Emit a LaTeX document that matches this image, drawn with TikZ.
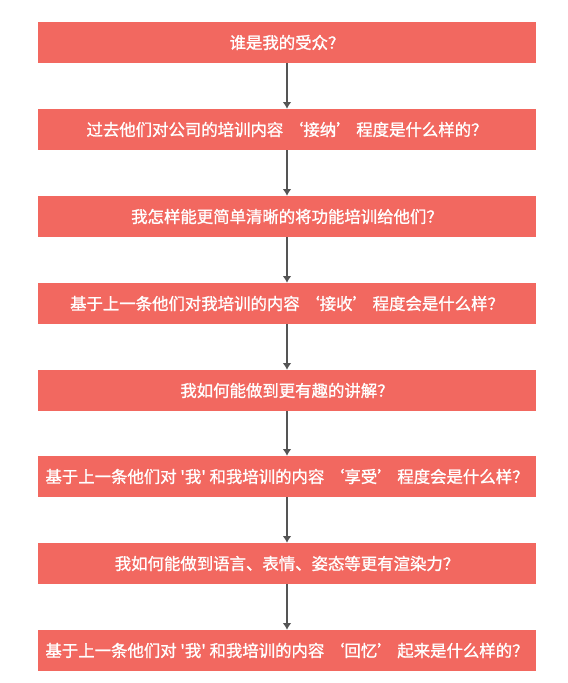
\documentclass[tikz,border=0pt]{standalone}
\usepackage{fontspec}
\newfontfamily\cjk[FakeBold=1.2]{Noto Sans CJK SC}
\usetikzlibrary{arrows.meta,positioning}
\definecolor{boxred}{HTML}{F26860}
\definecolor{linegray}{HTML}{555555}

\begin{document}
\begin{tikzpicture}[x=0.03cm,y=-0.03cm,>=Latex,
  qbox/.style={fill=boxred,draw=none,minimum width=14.94cm,minimum height=1.23cm,align=center,text=white,font=\cjk\fontsize{14pt}{16pt}\selectfont,inner sep=0pt},
  flow/.style={draw=linegray,line width=1.2pt,-{Latex[length=2mm,width=2.6mm]}}]
\useasboundingbox (0,0) rectangle (567,683);
\node[qbox] (q0) at (287,42.5) {谁是我的受众？};
\node[qbox] (q1) at (287,129.5) {过去他们对公司的培训内容 ‘接纳’ 程度是什么样的？};
\node[qbox] (q2) at (287,216.5) {我怎样能更简单清晰的将功能培训给他们？};
\node[qbox] (q3) at (287,303.5) {基于上一条他们对我培训的内容 ‘接收’ 程度会是什么样？};
\node[qbox] (q4) at (287,390.5) {我如何能做到更有趣的讲解？};
\node[qbox] (q5) at (287,476.5) {基于上一条他们对 '我' 和我培训的内容 ‘享受’ 程度会是什么样？};
\node[qbox] (q6) at (287,563.5) {我如何能做到语言、表情、姿态等更有渲染力？};
\node[qbox] (q7) at (287,650.5) {基于上一条他们对 '我' 和我培训的内容 ‘回忆’ 起来是什么样的？};
\draw[flow] (q0.south)--(q1.north);
\draw[flow] (q1.south)--(q2.north);
\draw[flow] (q2.south)--(q3.north);
\draw[flow] (q3.south)--(q4.north);
\draw[flow] (q4.south)--(q5.north);
\draw[flow] (q5.south)--(q6.north);
\draw[flow] (q6.south)--(q7.north);
\end{tikzpicture}
\end{document}
